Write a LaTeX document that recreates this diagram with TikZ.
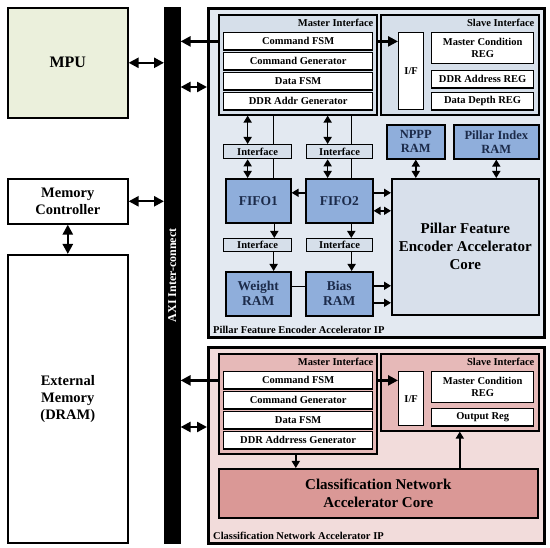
\documentclass[tikz,border=0pt]{standalone}
\usepackage{fontspec}
\setmainfont{Liberation Serif}
\usetikzlibrary{arrows.meta,positioning}
\definecolor{mpugreen}{HTML}{EBF0DC}
\definecolor{pfebg}{HTML}{E3E9F1}
\definecolor{pfeif}{HTML}{D6DFEA}
\definecolor{pfeblue}{HTML}{8FAEDB}
\definecolor{pfecore}{HTML}{D8E0EB}
\definecolor{navy}{HTML}{1C2B4A}
\definecolor{cnbg}{HTML}{F2DCDB}
\definecolor{cnif}{HTML}{E6B9B8}
\definecolor{cncore}{HTML}{DA9896}
\newcommand{\fsz}[2]{\fontsize{#1}{#2}\selectfont\bfseries}

\begin{document}
\begin{tikzpicture}[x=1pt, y=-1pt,
  blk/.style={draw, line width=1.6pt, inner sep=0pt, align=center, anchor=north west},
  ipbox/.style={blk, line width=3pt},
  ifbox/.style={blk, line width=1.6pt},
  row/.style={blk, line width=1.3pt, fill=white, minimum width=149, minimum height=17.5, font=\fsz{10.5}{12}},
  reg/.style={blk, line width=1.3pt, fill=white, minimum width=102, font=\fsz{10.5}{12}},
  small/.style={blk, line width=1.3pt, fill=pfeif, minimum height=14, font=\fsz{10.5}{12}},
  ram/.style={blk, fill=pfeblue, text=navy, font=\fsz{13.5}{15}},
  tag/.style={inner sep=0pt, font=\fsz{10.5}{12}},
  busarr/.style={line width=2.4pt, -{Triangle[length=10pt,width=10pt]}},
  busarr2/.style={line width=2.4pt, {Triangle[length=10pt,width=10pt]}-{Triangle[length=10pt,width=10pt]}},
  arr/.style={line width=1.6pt, -{Triangle[length=7pt,width=8pt]}},
  arr2/.style={line width=1.6pt, {Triangle[length=7pt,width=8pt]}-{Triangle[length=7pt,width=8pt]}}]
\useasboundingbox (0,0) rectangle (550,548);

% left side
\node[blk, fill=mpugreen, minimum width=120, minimum height=110, font=\fsz{16}{19}] (mpu) at (7,7) {MPU};
\node[blk, fill=white, minimum width=120, minimum height=45, font=\fsz{14.5}{17}] (memctrl) at (7,178) {Memory\\Controller};
\node[blk, fill=white, minimum width=120, minimum height=288, font=\fsz{14.5}{17}] (extmem) at (7,254) {External\\Memory\\(DRAM)};
\node[blk, fill=black, minimum width=15, minimum height=535] (bus) at (164,7) {};
\node[rotate=90, text=white, font=\fsz{12}{14}] (axi) at (bus.center) {AXI Inter-connect};

% pillar feature encoder IP
\node[ipbox, fill=pfebg, minimum width=336, minimum height=329] (pfeip) at (207,7) {};
\node[tag, anchor=south west] (pfetag) at ([xshift=6pt,yshift=5pt]pfeip.south west) {Pillar Feature Encoder Accelerator IP};
\node[ifbox, fill=pfeif, minimum width=158, minimum height=100] (m1) at (218,14) {};
\node[tag, anchor=north east] (m1tag) at ([xshift=-4pt,yshift=-5pt]m1.north east) {Master Interface};
\node[row] (r1a) at (223,32) {Command FSM};
\node[row] (r2a) at (223,52) {Command Generator};
\node[row] (r3a) at (223,72) {Data FSM};
\node[row] (r4a) at (223,92) {DDR Addr Generator};
\node[ifbox, fill=pfeif, minimum width=158, minimum height=100] (s1) at (380,14) {};
\node[tag, anchor=north east] (s1tag) at ([xshift=-5pt,yshift=-5pt]s1.north east) {Slave Interface};
\node[blk, line width=1.3pt, fill=white, minimum width=25, minimum height=77, font=\fsz{10.5}{12}] (if1) at (398,32) {I/F};
\node[reg, minimum height=31] (mcr1) at (431,32) {Master Condition\\REG};
\node[reg, minimum height=17.5] (ddr1) at (431,70) {DDR Address REG};
\node[reg, minimum height=17.5] (dd1) at (431,92) {Data Depth REG};

\node[small, minimum width=68] (int1a) at (223,144) {Interface};
\node[small, minimum width=66] (int2a) at (306,144) {Interface};
\node[ram, minimum width=65, minimum height=44] (fifo1) at (225,178) {FIFO1};
\node[ram, minimum width=67, minimum height=44] (fifo2) at (305,178) {FIFO2};
\node[small, minimum width=68, minimum height=13] (int1b) at (223,238) {Interface};
\node[small, minimum width=66, minimum height=13] (int2b) at (306,238) {Interface};
\node[ram, minimum width=65, minimum height=44] (wram) at (225,271) {Weight\\RAM};
\node[ram, minimum width=67, minimum height=44] (bram) at (305,271) {Bias\\RAM};
\node[ram, minimum width=58, minimum height=34, font=\fsz{12.5}{14}] (nppp) at (386,124) {NPPP\\RAM};
\node[ram, minimum width=85, minimum height=34, font=\fsz{12.5}{14}] (pidx) at (453,124) {Pillar Index\\RAM};
\node[blk, fill=pfecore, minimum width=147, minimum height=136, font=\fsz{15}{18}] (core1) at (391,178) {Pillar Feature\\Encoder Accelerator\\Core};

% classification network IP
\node[ipbox, fill=cnbg, minimum width=336, minimum height=196] (cnip) at (207,346) {};
\node[tag, anchor=south west] (cntag) at ([xshift=6pt,yshift=5pt]cnip.south west) {Classification Network Accelerator IP};
\node[ifbox, fill=cnif, minimum width=158, minimum height=100] (m2) at (218,353) {};
\node[tag, anchor=north east] (m2tag) at ([xshift=-4pt,yshift=-5pt]m2.north east) {Master Interface};
\node[row] (r1b) at (223,371) {Command FSM};
\node[row] (r2b) at (223,391) {Command Generator};
\node[row] (r3b) at (223,411) {Data FSM};
\node[row] (r4b) at (223,431) {DDR Addrress Generator};
\node[ifbox, fill=cnif, minimum width=158, minimum height=77] (s2) at (380,353) {};
\node[tag, anchor=north east] (s2tag) at ([xshift=-5pt,yshift=-5pt]s2.north east) {Slave Interface};
\node[blk, line width=1.3pt, fill=white, minimum width=25, minimum height=54, font=\fsz{10.5}{12}] (if2) at (398,371) {I/F};
\node[reg, minimum height=31] (mcr2) at (431,371) {Master Condition\\REG};
\node[reg, minimum height=17.5] (out2) at (431,408) {Output Reg};
\node[blk, fill=cncore, minimum width=319, minimum height=49, font=\fsz{15}{18}] (core2) at (218,468) {Classification Network\\Accelerator Core};

% connections, left side
\draw[busarr2] (mpu.east) -- (mpu.east -| bus.west);
\draw[busarr2] (memctrl.east) -- (memctrl.east -| bus.west);
\draw[busarr2] (memctrl.south) -- (extmem.north);

% connections, pillar feature encoder
\coordinate (pin1) at (207,87);
\draw[busarr] (m1.west |- r1a) -- (bus.east |- r1a);
\draw[busarr2] (bus.east |- pin1) -- (pin1);
\draw[busarr] (m1.east |- r1a) -- (if1.west |- r1a);
\draw[arr2] ([xshift=-10pt]int1a.north) -- ([xshift=-10pt]int1a.north |- m1.south);
\draw[arr2] ([xshift=-10pt]int1a.south) -- ([xshift=-10pt]int1a.south |- fifo1.north);
\draw[line width=1.3pt] ([xshift=16pt]int1a.north) -- ([xshift=16pt]int1a.north |- m1.south);
\draw[line width=1.3pt] ([xshift=16pt]int1a.south) -- ([xshift=16pt]int1a.south |- fifo1.north);
\draw[arr2] ([xshift=-12pt]int2a.north) -- ([xshift=-12pt]int2a.north |- m1.south);
\draw[arr2] ([xshift=-12pt]int2a.south) -- ([xshift=-12pt]int2a.south |- fifo2.north);
\draw[line width=1.3pt] ([xshift=12pt]int2a.north) -- ([xshift=12pt]int2a.north |- m1.south);
\draw[line width=1.3pt] ([xshift=12pt]int2a.south) -- ([xshift=12pt]int2a.south |- fifo2.north);
\draw[arr] ([yshift=8pt]fifo2.west) -- ([yshift=8pt]fifo2.west -| fifo1.east);
\draw[arr] ([yshift=8pt]fifo2.east) -- ([yshift=8pt]fifo2.east -| core1.west);
\draw[arr2] ([yshift=-10pt]fifo2.east) -- ([yshift=-10pt]fifo2.east -| core1.west);
\draw[arr] ([xshift=16pt]fifo1.south) -- ([xshift=16pt]fifo1.south |- int1b.north);
\draw[arr] ([xshift=16pt]int1b.south) -- ([xshift=16pt]int1b.south |- wram.north);
\draw[arr] ([xshift=12pt]fifo2.south) -- ([xshift=12pt]fifo2.south |- int2b.north);
\draw[arr] ([xshift=12pt]int2b.south) -- ([xshift=12pt]int2b.south |- bram.north);
\draw[line width=1.3pt] ([yshift=7pt]wram.east) -- ([yshift=7pt]wram.east -| bram.west);
\draw[arr] ([yshift=8pt]bram.east) -- ([yshift=8pt]bram.east -| core1.west);
\draw[arr] ([yshift=-9pt]bram.east) -- ([yshift=-9pt]bram.east -| core1.west);
\draw[arr2] (nppp.south) -- (nppp.south |- core1.north);
\draw[arr2] (pidx.south) -- (pidx.south |- core1.north);

% connections, classification network
\coordinate (pin2) at (207,427);
\draw[busarr] (m2.west |- r1b) -- (bus.east |- r1b);
\draw[busarr2] (bus.east |- pin2) -- (pin2);
\draw[busarr] (m2.east |- r1b) -- (if2.west |- r1b);
\draw[arr] ([xshift=-2pt]m2.south) -- ([xshift=-2pt]m2.south |- core2.north);
\draw[arr] (s2.south |- core2.north) -- (s2.south);
\end{tikzpicture}
\end{document}
